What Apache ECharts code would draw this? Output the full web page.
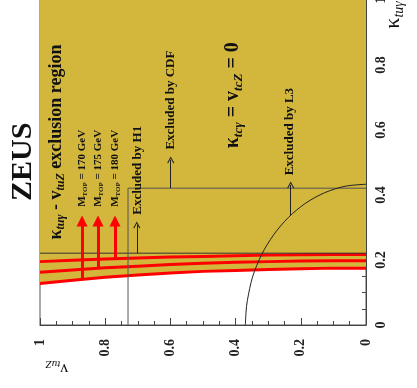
<!DOCTYPE html>
<html><head><meta charset="utf-8">
<script src="https://cdn.jsdelivr.net/npm/echarts@6/dist/echarts.min.js"></script>
<style>html,body{margin:0;padding:0;background:#fff}#c{width:417px;height:388px}</style>
</head><body><div id="c"></div>
<script>
// v_tuZ sample points (horizontal axis, reversed) and kappa_tuγ limits (vertical axis)
const vPoints = [0, 0.1, 0.2, 0.3, 0.4, 0.5, 0.6, 0.7, 0.8, 0.9, 1.0];
const kappaMtop170 = [0.175, 0.175, 0.173, 0.171, 0.168, 0.165, 0.160, 0.154, 0.147, 0.138, 0.128];
const kappaMtop175 = [0.198, 0.198, 0.197, 0.195, 0.193, 0.190, 0.186, 0.181, 0.176, 0.169, 0.162];
const kappaMtop180 = [0.217, 0.217, 0.216, 0.215, 0.213, 0.211, 0.209, 0.206, 0.203, 0.199, 0.195];
// L3 curve
const arcV     = [0.370, 0.368, 0.364, 0.348, 0.320, 0.283, 0.238, 0.185, 0.127, 0.064, 0.000];
const arcKappa = [0.000, 0.040, 0.075, 0.148, 0.217, 0.278, 0.331, 0.375, 0.407, 0.427, 0.433];
// H1 / CDF boundary
const boxV     = [0.73, 0.73, 0.0];
const boxKappa = [0.0, 0.421, 0.421];
const limitV     = [0, 1];
const limitKappa = [0.221, 0.221];
// black arrows (H1, CDF, L3)
const arrowV     = [0.703, 0.599, 0.231];
const arrowFrom  = [0.221, 0.421, 0.338];
const arrowTo    = [0.308, 0.508, 0.431];
// red arrows (Mtop 170, 175, 180)
const mtopValues = ['170', '175', '180'];
const mtopArrowV = [0.871, 0.822, 0.770];
const mtopFrom   = [0.140, 0.174, 0.205];
const mtopTo     = [0.320, 0.320, 0.320];
const tickLabels = ['0', '0.2', '0.4', '0.6', '0.8', '1'];

const pairs = (xs, ys) => xs.map((x, i) => [x, ys[i]]);
const GOLD = '#d3b63c';
const SERIF = '"Liberation Serif", "DejaVu Serif", serif';
const chevron = 'path://M5,0 L10,8.5 L8.8,9.3 L5,2.7 L1.2,9.3 L0,8.5 Z';

const chart = echarts.init(document.getElementById('c'));
const axisCommon = {
  type: 'value', min: 0, max: 1, interval: 0.2,
  axisLine: {show: true, lineStyle: {color: '#444', width: 1}},
  axisTick: {show: true, inside: true, length: 7, lineStyle: {color: '#444'}},
  minorTick: {show: true, splitNumber: 4, length: 4, lineStyle: {color: '#444'}},
  splitLine: {show: false},
  axisLabel: {rotate: 90, fontFamily: SERIF, fontWeight: 'bold', fontSize: 14, color: '#222',
    formatter: v => tickLabels[Math.round(v / 0.2)]}
};
chart.setOption({
  animation: false,
  grid: {left: 40, right: 51, top: 0, bottom: 63, show: true, borderColor: '#555', borderWidth: 1,
         backgroundColor: 'transparent', outerBoundsMode: 'none', containLabel: false},
  xAxis: Object.assign({}, axisCommon, {inverse: true, position: 'bottom',
    axisLabel: Object.assign({}, axisCommon.axisLabel, {margin: 14})}),
  yAxis: Object.assign({}, axisCommon, {position: 'right',
    axisLabel: Object.assign({}, axisCommon.axisLabel, {margin: 8})}),
  series: [
    {type: 'line', data: pairs(vPoints, kappaMtop170), symbol: 'none', z: 2,
     lineStyle: {color: '#ff0000', width: 3}, areaStyle: {color: GOLD, opacity: 1, origin: 'end'}},
    {type: 'line', data: pairs(vPoints, kappaMtop175), symbol: 'none', z: 3, lineStyle: {color: '#ff0000', width: 3}},
    {type: 'line', data: pairs(vPoints, kappaMtop180), symbol: 'none', z: 3, lineStyle: {color: '#ff0000', width: 3}},
    {type: 'line', data: pairs(limitV, limitKappa), symbol: 'none', z: 4, lineStyle: {color: '#333', width: 1}},
    {type: 'line', data: pairs(boxV, boxKappa), symbol: 'none', z: 4, lineStyle: {color: '#555', width: 1}},
    {type: 'line', data: pairs(arcV, arcKappa), symbol: 'none', smooth: 0.3, z: 4, lineStyle: {color: '#222', width: 1}},
    {type: 'lines', coordinateSystem: 'cartesian2d', z: 5,
     symbol: ['none', chevron], symbolSize: [8, 7],
     lineStyle: {color: '#222', width: 1, opacity: 1},
     data: arrowV.map((v, i) => ({coords: [[v, arrowFrom[i]], [v, arrowTo[i]]]}))},
    {type: 'lines', coordinateSystem: 'cartesian2d', z: 5,
     symbol: ['none', 'triangle'], symbolSize: [10, 11],
     lineStyle: {color: '#ff0000', width: 3, opacity: 1},
     data: mtopArrowV.map((v, i) => ({coords: [[v, mtopFrom[i]], [v, mtopTo[i]]]}))}
  ]
});

// text annotations anchored in data coordinates [v, kappa]
const annotations = [
  {text: 'ZEUS', at: [1.052, 0.502], kind: 'zeus'},
  {text: '{b|κ}{s|tuγ}{b| - v}{s|tuZ}{b| exclusion region}', at: [0.951, 0.563], kind: 'title'},
  {text: '{b|Excluded by H1}', at: [0.702, 0.476], kind: 'excl'},
  {text: '{b|Excluded by CDF}', at: [0.598, 0.692], kind: 'excl'},
  {text: '{b|Excluded by L3}', at: [0.233, 0.595], kind: 'excl'},
  {text: '{b|κ}{s|tcγ}{b| = v}{s|tcZ}{b| = 0}', at: [0.408, 0.707], kind: 'big'},
  {text: '{k|κ}{s|tuγ}', at: [-0.083, 0.954], kind: 'ytitle'},
  {text: '{k|v}{s|tuZ}', at: [0.948, -0.134], kind: 'xtitle'}
].concat(mtopValues.map((m, i) => ({text: '{b|M}{s|TOP}{b| = ' + m + ' GeV}', at: [mtopArrowV[i], 0.482], kind: 'mtop'})));

const richFor = {
  title: {b: {fontSize: 18, fontWeight: 'bold', fontFamily: SERIF, fill: '#111'},
          s: {fontSize: 12, fontWeight: 'bold', fontStyle: 'italic', fontFamily: SERIF, fill: '#111', padding: [10, 0, 0, 0]}},
  excl: {b: {fontSize: 13, fontWeight: 'bold', fontFamily: SERIF, fill: '#111'}},
  big: {b: {fontSize: 20, fontWeight: 'bold', fontFamily: SERIF, fill: '#111'},
        s: {fontSize: 13, fontWeight: 'bold', fontStyle: 'italic', fontFamily: SERIF, fill: '#111', padding: [11, 0, 0, 0]}},
  mtop: {b: {fontSize: 11, fontWeight: 'bold', fontFamily: SERIF, fill: '#111'},
         s: {fontSize: 7, fontWeight: 'bold', fontFamily: SERIF, fill: '#111', padding: [6, 0, 0, 0]}},
  ytitle: {k: {fontSize: 22, fontFamily: SERIF, fill: '#111'},
           s: {fontSize: 14, fontStyle: 'italic', fontFamily: SERIF, fill: '#111', padding: [12, 0, 0, 0]}},
  xtitle: {k: {fontSize: 16, fontFamily: SERIF, fill: '#111'},
           s: {fontSize: 11, fontStyle: 'italic', fontFamily: SERIF, fill: '#111', padding: [9, 0, 0, 0]}}
};

const graphics = annotations.map(a => {
  const p = chart.convertToPixel({gridIndex: 0}, a.at);
  const isZeus = a.kind === 'zeus';
  return {
    type: 'text', x: p[0], y: p[1], z: 100,
    rotation: a.kind === 'xtitle' ? Math.PI : Math.PI / 2,
    style: isZeus ? {text: a.text, fontSize: 30, fontWeight: 'bold', fontFamily: SERIF, fill: '#111', align: 'center', verticalAlign: 'middle'}
                  : {text: a.text, rich: richFor[a.kind], fontFamily: SERIF, fill: '#111', align: 'center', verticalAlign: 'middle'}
  };
});
chart.setOption({graphic: graphics});
</script>
</body></html>
